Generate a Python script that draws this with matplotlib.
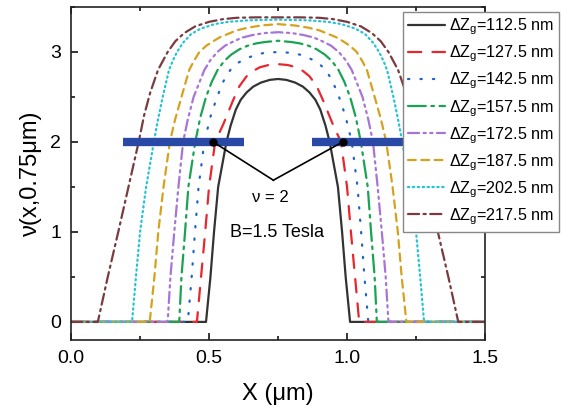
import matplotlib
matplotlib.use('Agg')
import matplotlib.pyplot as plt
from matplotlib.ticker import MultipleLocator

plt.rcParams['font.family'] = ['Liberation Sans', 'DejaVu Sans']
plt.rcParams['mathtext.fontset'] = 'custom'
plt.rcParams['mathtext.rm'] = 'Liberation Sans'
plt.rcParams['mathtext.it'] = 'Liberation Sans:italic'

# gate widths (legend) and filling factor profiles nu(x, 0.75um)
gate_widths = ['112.5', '127.5', '142.5', '157.5', '172.5', '187.5', '202.5', '217.5']

# left half / right half of every profile
xl_1125 = [0, 0.489, 0.505, 0.518, 0.533, 0.563, 0.578, 0.597, 0.615, 0.636, 0.66, 0.688, 0.72, 0.75]
vl_1125 = [0, 0, 0.5, 1.0, 1.5, 2.0, 2.18, 2.36, 2.47, 2.55, 2.615, 2.66, 2.69, 2.70]
xr_1125 = [0.78, 0.812, 0.84, 0.864, 0.885, 0.903, 0.922, 0.937, 0.967, 0.982, 0.995, 1.011, 1.5]
vr_1125 = [2.69, 2.66, 2.615, 2.55, 2.47, 2.36, 2.18, 2.0, 1.5, 1.0, 0.5, 0, 0]

xl_1275 = [0, 0.456, 0.471, 0.486, 0.50, 0.522, 0.552, 0.588, 0.61, 0.636, 0.66, 0.684, 0.715, 0.75]
vl_1275 = [0, 0, 0.5, 1.0, 1.5, 2.0, 2.2, 2.47, 2.62, 2.73, 2.79, 2.83, 2.855, 2.865]
xr_1275 = [0.785, 0.816, 0.84, 0.864, 0.89, 0.912, 0.948, 0.978, 1.0, 1.014, 1.029, 1.044, 1.5]
vr_1275 = [2.855, 2.83, 2.79, 2.73, 2.62, 2.47, 2.2, 2.0, 1.5, 1.0, 0.5, 0, 0]

xl_1425 = [0, 0.423, 0.437, 0.449, 0.462, 0.483, 0.505, 0.529, 0.553, 0.577, 0.605, 0.636, 0.67, 0.70, 0.75]
vl_1425 = [0, 0, 0.5, 1.0, 1.5, 2.0, 2.28, 2.5, 2.68, 2.8, 2.88, 2.93, 2.97, 2.99, 3.0]
xr_1425 = [0.80, 0.83, 0.864, 0.895, 0.923, 0.947, 0.971, 0.995, 1.017, 1.038, 1.051, 1.063, 1.077, 1.5]
vr_1425 = [2.99, 2.97, 2.93, 2.88, 2.8, 2.68, 2.5, 2.28, 2.0, 1.5, 1.0, 0.5, 0, 0]

xl_1575 = [0, 0.392, 0.40, 0.413, 0.425, 0.45, 0.468, 0.489, 0.51, 0.531, 0.555, 0.58, 0.61, 0.64, 0.67, 0.70, 0.75]
vl_1575 = [0, 0, 0.5, 1.0, 1.5, 2.0, 2.27, 2.5, 2.67, 2.8, 2.9, 2.97, 3.03, 3.07, 3.095, 3.11, 3.125]
xr_1575 = [0.80, 0.83, 0.86, 0.89, 0.92, 0.945, 0.969, 0.99, 1.011, 1.032, 1.05, 1.075, 1.087, 1.10, 1.108, 1.5]
vr_1575 = [3.11, 3.095, 3.07, 3.03, 2.97, 2.9, 2.8, 2.67, 2.5, 2.27, 2.0, 1.5, 1.0, 0.5, 0, 0]

xl_1725 = [0, 0.35, 0.36, 0.374, 0.389, 0.406, 0.423, 0.444, 0.483, 0.505, 0.53, 0.558, 0.59, 0.62, 0.66, 0.70, 0.75]
vl_1725 = [0, 0, 0.5, 1.0, 1.5, 2.0, 2.25, 2.5, 2.8, 2.91, 3.0, 3.07, 3.12, 3.16, 3.19, 3.21, 3.22]
xr_1725 = [0.80, 0.84, 0.88, 0.91, 0.942, 0.97, 0.995, 1.017, 1.056, 1.077, 1.094, 1.111, 1.126, 1.14, 1.15, 1.5]
vr_1725 = [3.21, 3.19, 3.16, 3.12, 3.07, 3.0, 2.91, 2.8, 2.5, 2.25, 2.0, 1.5, 1.0, 0.5, 0, 0]

xl_1875 = [0, 0.285, 0.302, 0.316, 0.335, 0.358, 0.377, 0.40, 0.428, 0.445, 0.465, 0.49, 0.515, 0.54,
           0.568, 0.60, 0.64, 0.69, 0.75]
vl_1875 = [0, 0, 0.5, 1.0, 1.5, 2.0, 2.25, 2.5, 2.8, 2.9, 3.0, 3.07, 3.12, 3.165,
           3.2, 3.24, 3.27, 3.295, 3.31]
xr_1875 = [0.81, 0.86, 0.90, 0.932, 0.96, 0.985, 1.01, 1.035, 1.055, 1.072, 1.10, 1.123, 1.142, 1.165,
           1.184, 1.198, 1.215, 1.5]
vr_1875 = [3.295, 3.27, 3.24, 3.2, 3.165, 3.12, 3.07, 3.0, 2.9, 2.8, 2.5, 2.25, 2.0, 1.5,
           1.0, 0.5, 0, 0]

xl_2025 = [0, 0.221, 0.235, 0.25, 0.272, 0.30, 0.315, 0.332, 0.355, 0.368, 0.384, 0.405, 0.435, 0.47,
           0.52, 0.57, 0.64, 0.75]
vl_2025 = [0, 0, 0.5, 1.0, 1.5, 2.0, 2.25, 2.5, 2.8, 2.9, 3.0, 3.1, 3.2, 3.26,
           3.31, 3.335, 3.352, 3.36]
xr_2025 = [0.86, 0.93, 0.98, 1.03, 1.065, 1.095, 1.116, 1.132, 1.145, 1.168, 1.185, 1.20, 1.228, 1.25,
           1.265, 1.279, 1.5]
vr_2025 = [3.352, 3.335, 3.31, 3.26, 3.2, 3.1, 3.0, 2.9, 2.8, 2.5, 2.25, 2.0, 1.5, 1.0,
           0.5, 0, 0]

xl_2175 = [0, 0.097, 0.133, 0.171, 0.208, 0.245, 0.265, 0.287, 0.315, 0.35, 0.378, 0.41, 0.45, 0.50,
           0.55, 0.60, 0.67, 0.75]
vl_2175 = [0, 0, 0.5, 1.0, 1.5, 2.0, 2.3, 2.55, 2.8, 3.0, 3.12, 3.21, 3.285, 3.335,
           3.365, 3.38, 3.385, 3.385]
xr_2175 = [0.83, 0.90, 0.95, 1.00, 1.05, 1.09, 1.122, 1.15, 1.185, 1.213, 1.235, 1.255, 1.292, 1.329,
           1.367, 1.403, 1.5]
vr_2175 = [3.385, 3.38, 3.365, 3.335, 3.285, 3.21, 3.12, 3.0, 2.8, 2.55, 2.3, 2.0, 1.5, 1.0,
           0.5, 0, 0]

xs = [xl_1125 + xr_1125, xl_1275 + xr_1275, xl_1425 + xr_1425, xl_1575 + xr_1575,
      xl_1725 + xr_1725, xl_1875 + xr_1875, xl_2025 + xr_2025, xl_2175 + xr_2175]
vs = [vl_1125 + vr_1125, vl_1275 + vr_1275, vl_1425 + vr_1425, vl_1575 + vr_1575,
      vl_1725 + vr_1725, vl_1875 + vr_1875, vl_2025 + vr_2025, vl_2175 + vr_2175]

colors = ['#333333', '#e8262d', '#1f64c8', '#1aa353', '#a874d6', '#d6a21e', '#22c4d6', '#7a3b40']
dashes = [(), (6, 5), (0.6, 5), (8, 2.5, 1.2, 2.5), (5, 2, 1, 2, 1, 2),
          (3.5, 2.5), (0.6, 1.6), (5, 2, 1, 2)]

# nu = 2 markers
bar_left = [0.188, 0.627]
bar_right = [0.872, 1.31]
nu2_pts_x = [0.515, 0.984]
nu2_y = 2.0
vertex = (0.733, 1.575)

fig = plt.figure(figsize=(5.64, 4.12), dpi=100)
ax = fig.add_axes([0.126, 0.175, 0.734, 0.808])

for x, v, c, d, w in zip(xs, vs, colors, dashes, gate_widths):
    ln, = ax.plot(x, v, color=c, lw=1.6, label=r'ΔZ$_\mathrm{g}$=' + w + ' nm',
                  solid_capstyle='round', dash_capstyle='round', solid_joinstyle='round')
    if d:
        ln.set_dashes(d)

ax.plot(bar_left, [nu2_y, nu2_y], color='#2a48a6', lw=6, solid_capstyle='butt', zorder=5)
ax.plot(bar_right, [nu2_y, nu2_y], color='#2a48a6', lw=6, solid_capstyle='butt', zorder=5)
for px in nu2_pts_x:
    ax.plot([px, vertex[0]], [nu2_y, vertex[1]], color='black', lw=1.2, zorder=6)
ax.plot(nu2_pts_x, [nu2_y, nu2_y], 'o', color='black', ms=5, zorder=7)

ax.text(0.721, 1.38, 'ν = 2', fontsize=12, ha='center', va='center')
ax.text(0.745, 0.99, 'B=1.5 Tesla', fontsize=13, ha='center', va='center')

ax.set_xlim(0, 1.5)
ax.set_ylim(-0.2, 3.5)
ax.xaxis.set_major_locator(MultipleLocator(0.5))
ax.xaxis.set_minor_locator(MultipleLocator(0.25))
ax.yaxis.set_major_locator(MultipleLocator(1))
ax.yaxis.set_minor_locator(MultipleLocator(0.5))
ax.set_xticks([0, 0.5, 1.0, 1.5])
ax.set_xticklabels(['0.0', '0.5', '1.0', '1.5'])
ax.tick_params(which='both', direction='in', top=True, right=True, labelsize=14, width=1.1)
ax.tick_params(which='major', length=5, pad=7)
ax.tick_params(which='minor', length=3)
for s in ax.spines.values():
    s.set_linewidth(1.2)
    s.set_color('#222222')

ax.set_xlabel('X (μm)', fontsize=17, labelpad=12)
ax.set_ylabel('ν(x,0.75μm)', fontsize=17, labelpad=6)

leg = ax.legend(loc='upper left', bbox_to_anchor=(0.7145, 0.971), bbox_transform=fig.transFigure,
                fontsize=11.6, handlelength=2.3, handletextpad=0.25, labelspacing=0.4,
                borderaxespad=0, borderpad=0.3, fancybox=False, framealpha=1)
leg.get_frame().set_edgecolor('#888888')
leg.get_frame().set_linewidth(1.0)
leg.set_zorder(10)

fig.savefig('out.png', dpi=100)
